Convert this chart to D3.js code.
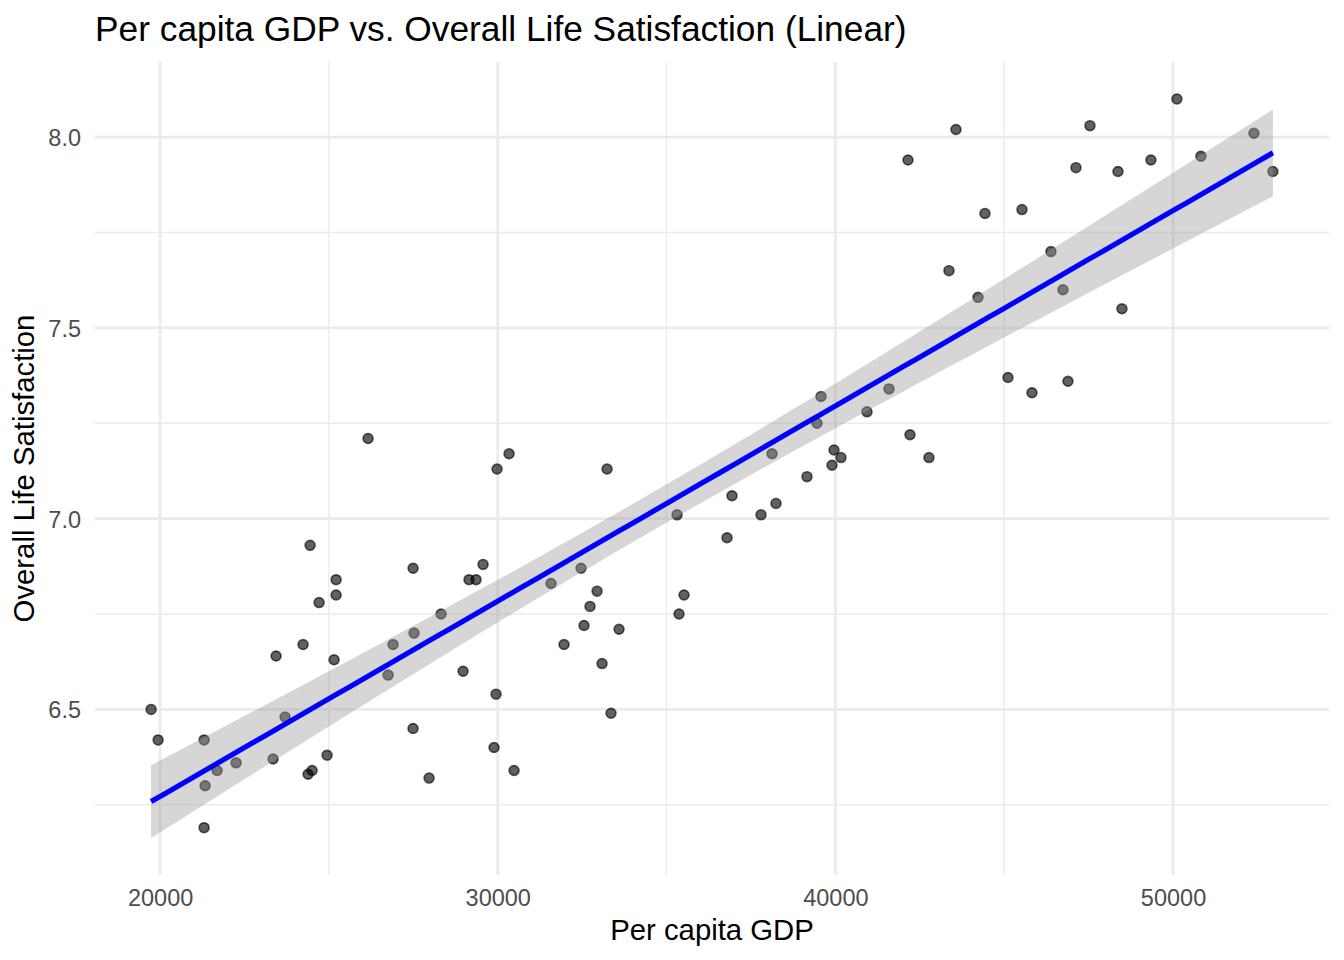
<!DOCTYPE html>
<html>
<head>
<meta charset="utf-8">
<script src="https://cdn.jsdelivr.net/npm/d3@7"></script>
<style>
  html, body { margin: 0; padding: 0; background: #fff; }
  svg { display: block; font-family: 'Liberation Sans', Arial, Helvetica, sans-serif; }
</style>
</head>
<body>
<svg></svg>
<script>
// data
const gdp = [
  19733, 19941, 21303, 21333, 21303, 21688, 22250, 23346, 23435, 23701,
  24234, 24382, 24501, 24442, 24708, 24945, 25152, 25212, 25212, 26159,
  26752, 26900, 27492, 27521, 27492, 27966, 28321, 28973, 29150, 29357,
  29565, 29890, 29950, 29979, 30335, 30483, 31578, 31963, 32467, 32555,
  32733, 32941, 33089, 33237, 33355, 33592, 35310, 35369, 35517, 36790,
  36938, 37797, 38123, 38241, 39159, 39455, 39574, 39899, 39959, 40166,
  40936, 41587, 42150, 42209, 42771, 43364, 43571, 44223, 44430, 45111,
  45526, 45822, 46384, 46740, 46888, 47125, 47540, 48369, 48487, 49345,
  50115, 50826, 52396, 52958
];
const satisfaction = [
  6.50, 6.42, 6.42, 6.30, 6.19, 6.34, 6.36, 6.37, 6.64, 6.48,
  6.67, 6.33, 6.34, 6.93, 6.78, 6.38, 6.63, 6.80, 6.84, 7.21,
  6.59, 6.67, 6.87, 6.70, 6.45, 6.32, 6.75, 6.60, 6.84, 6.84,
  6.88, 6.40, 6.54, 7.13, 7.17, 6.34, 6.83, 6.67, 6.87, 6.72,
  6.77, 6.81, 6.62, 7.13, 6.49, 6.71, 7.01, 6.75, 6.80, 6.95,
  7.06, 7.01, 7.17, 7.04, 7.11, 7.25, 7.32, 7.14, 7.18, 7.16,
  7.28, 7.34, 7.94, 7.22, 7.16, 7.65, 8.02, 7.58, 7.80, 7.37,
  7.81, 7.33, 7.70, 7.60, 7.36, 7.92, 8.03, 7.91, 7.55, 7.94,
  8.10, 7.95, 8.01, 7.91
];
const xTicks = [20000, 30000, 40000, 50000];
const xMinor = [25000, 35000, 45000];
const yTicks = [6.5, 7.0, 7.5, 8.0];
const yMinor = [6.25, 6.75, 7.25, 7.75];

const width = 1344;
const height = 960;
const margin = { left: 95, top: 62, right: 15, bottom: 85 };

const svg = d3.select('svg').attr('width', width).attr('height', height);

const points = gdp.map((g, i) => ({ x: g, y: satisfaction[i] }));

// linear fit with 95% confidence band (like geom_smooth(method = "lm"))
const n = points.length;
const xbar = d3.mean(points, (d) => d.x);
const ybar = d3.mean(points, (d) => d.y);
const sxx = d3.sum(points, (d) => (d.x - xbar) ** 2);
const sxy = d3.sum(points, (d) => (d.x - xbar) * (d.y - ybar));
const slope = sxy / sxx;
const intercept = ybar - slope * xbar;
const sse = d3.sum(points, (d) => (d.y - intercept - slope * d.x) ** 2);
const s = Math.sqrt(sse / (n - 2));
const tq = 1.989; // qt(0.975, 82)

const [xmin, xmax] = d3.extent(points, (d) => d.x);
const fit = d3.range(80).map((i) => {
  const x = xmin + ((xmax - xmin) * i) / 79;
  const yhat = intercept + slope * x;
  const se = s * Math.sqrt(1 / n + (x - xbar) ** 2 / sxx);
  return { x, y: yhat, lo: yhat - tq * se, hi: yhat + tq * se };
});

// scales with ggplot's 5% expansion
const expand = ([a, b]) => [a - (b - a) * 0.05, b + (b - a) * 0.05];
const x = d3.scaleLinear()
  .domain(expand([xmin, xmax]))
  .range([margin.left, width - margin.right]);
const yLo = Math.min(d3.min(points, (d) => d.y), d3.min(fit, (d) => d.lo));
const yHi = Math.max(d3.max(points, (d) => d.y), d3.max(fit, (d) => d.hi));
const y = d3.scaleLinear()
  .domain(expand([yLo, yHi]))
  .range([height - margin.bottom, margin.top]);

// grid
const grid = svg.append('g').attr('class', 'grid').attr('stroke', '#EBEBEB').attr('fill', 'none');
grid.selectAll('line.xminor').data(xMinor).join('line')
  .attr('x1', (d) => x(d)).attr('x2', (d) => x(d))
  .attr('y1', y.range()[0]).attr('y2', y.range()[1])
  .attr('stroke-width', 1.4);
grid.selectAll('line.yminor').data(yMinor).join('line')
  .attr('y1', (d) => y(d)).attr('y2', (d) => y(d))
  .attr('x1', x.range()[0]).attr('x2', x.range()[1])
  .attr('stroke-width', 1.4);
grid.append('g').selectAll('line').data(xTicks).join('line')
  .attr('x1', (d) => x(d)).attr('x2', (d) => x(d))
  .attr('y1', y.range()[0]).attr('y2', y.range()[1])
  .attr('stroke-width', 2.8);
grid.append('g').selectAll('line').data(yTicks).join('line')
  .attr('y1', (d) => y(d)).attr('y2', (d) => y(d))
  .attr('x1', x.range()[0]).attr('x2', x.range()[1])
  .attr('stroke-width', 2.8);

// points
svg.append('g').attr('class', 'points')
  .selectAll('circle').data(points).join('circle')
  .attr('cx', (d) => x(d.x))
  .attr('cy', (d) => y(d.y))
  .attr('r', 4.9)
  .attr('fill', '#000').attr('fill-opacity', 0.62)
  .attr('stroke', '#000').attr('stroke-opacity', 0.62)
  .attr('stroke-width', 1.7);

// band + line
svg.append('path').datum(fit)
  .attr('fill', '#999999').attr('fill-opacity', 0.4)
  .attr('d', d3.area().x((d) => x(d.x)).y0((d) => y(d.lo)).y1((d) => y(d.hi)));
svg.append('path').datum(fit)
  .attr('fill', 'none').attr('stroke', '#0000FF').attr('stroke-width', 5.2)
  .attr('d', d3.line().x((d) => x(d.x)).y((d) => y(d.y)));

// axes (ggplot minimal: labels only)
const xAxis = svg.append('g')
  .attr('transform', `translate(0, ${height - margin.bottom})`)
  .call(d3.axisBottom(x).tickValues(xTicks).tickFormat(d3.format('d')).tickSize(0).tickPadding(31));
const yAxis = svg.append('g')
  .attr('transform', `translate(${margin.left}, 0)`)
  .call(d3.axisLeft(y).tickValues(yTicks).tickFormat(d3.format('.1f')).tickSize(0).tickPadding(14));
[xAxis, yAxis].forEach((a) => {
  a.select('.domain').remove();
  a.selectAll('text').attr('fill', '#4D4D4D').style('font-size', '23.5px')
    .style('font-family', "'Liberation Sans', Arial, sans-serif");
});
xAxis.selectAll('text').attr('dy', 0);
yAxis.selectAll('text').attr('dy', '0.36em');

// titles
svg.append('text')
  .attr('x', margin.left).attr('y', 41)
  .style('font-size', '35.3px').attr('fill', '#000')
  .text('Per capita GDP vs. Overall Life Satisfaction (Linear)');
svg.append('text')
  .attr('x', (x.range()[0] + x.range()[1]) / 2).attr('y', 940)
  .attr('text-anchor', 'middle')
  .style('font-size', '29.3px').attr('fill', '#000')
  .text('Per capita GDP');
svg.append('text')
  .attr('transform', `translate(34, ${(y.range()[0] + y.range()[1]) / 2}) rotate(-90)`)
  .attr('text-anchor', 'middle')
  .style('font-size', '29.3px').attr('fill', '#000')
  .text('Overall Life Satisfaction');
</script>
</body>
</html>
